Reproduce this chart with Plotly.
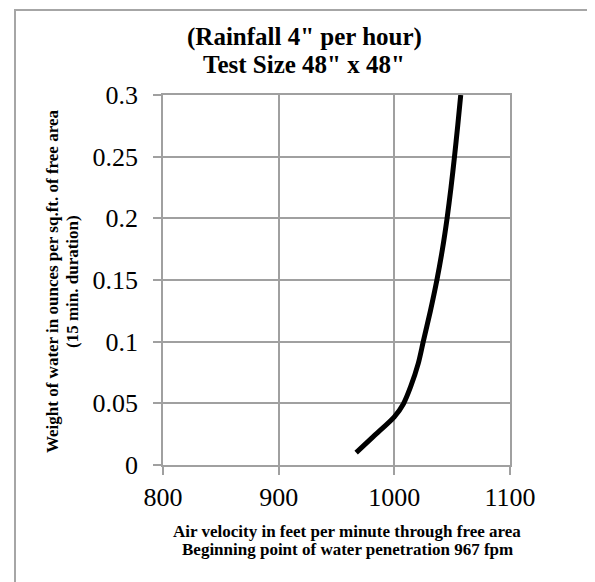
import plotly.graph_objects as go

# ---- data ----
air_velocity = [967, 981.8, 1000, 1007.8, 1014.1, 1020.7, 1025, 1031.2, 1036.8,
                1041.6, 1045.6, 1049.0, 1052.0, 1054.8, 1057.4]
water_weight = [0.01, 0.023, 0.039, 0.0495, 0.0635, 0.0824, 0.1, 0.125, 0.15,
                0.175, 0.2, 0.225, 0.25, 0.275, 0.3]

x_ticks = [800, 900, 1000, 1100]
x_tick_labels = ["800", "900", "1000", "1100"]
y_ticks = [0, 0.05, 0.1, 0.15, 0.2, 0.25, 0.3]
y_tick_labels = ["0", "0.05", "0.1", "0.15", "0.2", "0.25", "0.3"]

title_lines = ["(Rainfall 4\" per hour)", "Test Size 48\" x 48\""]
x_title_lines = ["Air velocity in feet per minute through free area",
                 "Beginning point of water penetration 967 fpm"]
y_title_lines = ["Weight of water in ounces per sq.ft. of free area",
                 "(15 min. duration)"]

# ---- layout geometry (pixels in the screenshot; page body has an 8px offset) ----
OFF = 8
W, H = 595 - OFF, 582 - OFF
L, R, T, B = 163 - OFF, 510 - OFF, 95 - OFF, 465 - OFF


def px(x):
    return (x - OFF - L) / (R - L)


def py(y):
    return (B - (y - OFF)) / (B - T)


GRID = "#a0a0a0"
SERIF = "Liberation Serif, Times New Roman, serif"

fig = go.Figure()
fig.add_trace(go.Scatter(
    x=air_velocity, y=water_weight, mode="lines",
    line=dict(color="black", width=5, shape="spline", smoothing=0.8),
    showlegend=False, hoverinfo="skip",
))

fig.update_layout(
    width=W, height=H,
    margin=dict(l=L, r=W - R, t=T, b=H - B, pad=0),
    paper_bgcolor="white", plot_bgcolor="white",
    font=dict(family=SERIF, color="black"),
    xaxis=dict(
        range=[800, 1100], tickvals=x_ticks, ticktext=x_tick_labels,
        showgrid=True, gridcolor=GRID, gridwidth=1.5,
        showline=True, linecolor=GRID, linewidth=1.5, mirror=True,
        ticks="outside", ticklen=8, tickcolor=GRID, tickwidth=1.5,
        tickfont=dict(size=26, family=SERIF), zeroline=False,
        ticklabelstandoff=0,
    ),
    yaxis=dict(
        range=[0, 0.3], tickvals=y_ticks, ticktext=y_tick_labels,
        showgrid=True, gridcolor=GRID, gridwidth=1.5,
        showline=True, linecolor=GRID, linewidth=1.5, mirror=True,
        ticks="outside", ticklen=8, tickcolor=GRID, tickwidth=1.5,
        tickfont=dict(size=26, family=SERIF), zeroline=False,
        ticklabelstandoff=10,
    ),
)

# outer chart border
fig.add_shape(type="rect", xref="paper", yref="paper",
              x0=px(15), x1=px(591), y0=py(600), y1=py(10),
              line=dict(color="#a6a6a6", width=2), fillcolor="rgba(0,0,0,0)",
              layer="below")

for i, t in enumerate(title_lines):
    fig.add_annotation(text="<b>" + t + "</b>", xref="paper", yref="paper",
                       x=px(304), y=py(37 + 28 * i), showarrow=False,
                       xanchor="center", yanchor="middle",
                       font=dict(size=25, family=SERIF))

for i, t in enumerate(x_title_lines):
    fig.add_annotation(text="<b>" + t + "</b>", xref="paper", yref="paper",
                       x=px(347), y=py(531 + 18 * i), showarrow=False,
                       xanchor="center", yanchor="middle",
                       font=dict(size=17, family=SERIF))

for i, t in enumerate(y_title_lines):
    fig.add_annotation(text="<b>" + t + "</b>", xref="paper", yref="paper",
                       x=px(52.5 + 20 * i), y=py(281.5), showarrow=False,
                       xanchor="center", yanchor="middle", textangle=-90,
                       font=dict(size=17, family=SERIF))

fig.write_html("out.html")
